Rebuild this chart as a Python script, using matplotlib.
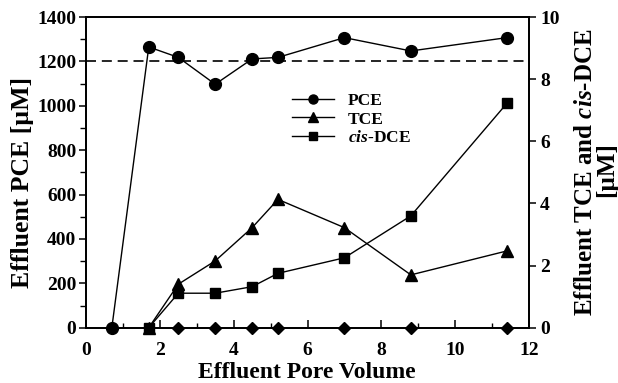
import matplotlib
matplotlib.use("Agg")
import matplotlib.pyplot as plt
from matplotlib.ticker import MultipleLocator
from matplotlib.lines import Line2D

plt.rcParams["font.family"] = ["Liberation Serif", "DejaVu Serif"]
plt.rcParams["font.weight"] = "bold"
plt.rcParams["mathtext.fontset"] = "custom"
plt.rcParams["mathtext.it"] = "Liberation Serif:italic:bold"
plt.rcParams["mathtext.rm"] = "Liberation Serif:bold"
plt.rcParams["mathtext.bf"] = "Liberation Serif:bold"

# Effluent pore volumes and measured concentrations
pv_pce = [0.7, 1.7, 2.5, 3.5, 4.5, 5.2, 7.0, 8.8, 11.4]
pce = [0, 1265, 1218, 1097, 1211, 1218, 1307, 1247, 1307]          # µM

pv_daughter = [1.7, 2.5, 3.5, 4.5, 5.2, 7.0, 8.8, 11.4]
tce = [0, 1.40, 2.15, 3.22, 4.13, 3.22, 1.70, 2.47]                  # µM
cis_dce = [0, 1.11, 1.11, 1.32, 1.75, 2.25, 3.60, 7.22]              # µM

pv_zero = [2.5, 3.5, 4.5, 5.2, 7.0, 8.8, 11.4]
zero_series = [0, 0, 0, 0, 0, 0, 0]

influent_pce = 1200  # µM

W, H = 618, 383
fig = plt.figure(figsize=(W / 100, H / 100), dpi=100)
ax = fig.add_axes([86 / W, 1 - 327.7 / H, (529 - 86) / W, (327.7 - 17) / H])
ax2 = ax.twinx()

lw = 1.0
ax.axhline(influent_pce, color="black", lw=1.2, ls=(0, (6, 3.5)), zorder=1)
ax.plot(pv_pce, pce, color="black", lw=lw, marker="o", ms=8.5, clip_on=False, zorder=3)

ax2.plot(pv_daughter, tce, color="black", lw=lw, marker="^", ms=8.5, clip_on=False, zorder=3)
ax2.plot(pv_daughter, cis_dce, color="black", lw=lw, marker="s", ms=7, clip_on=False, zorder=3)
ax2.plot(pv_zero, zero_series, ls="none", color="black", marker="D", ms=6.5, clip_on=False, zorder=4)

ax.set_xlim(0, 12)
ax.set_ylim(0, 1400)
ax2.set_ylim(0, 10)

ax.xaxis.set_major_locator(MultipleLocator(2))
ax.xaxis.set_minor_locator(MultipleLocator(1))
ax.yaxis.set_major_locator(MultipleLocator(200))
ax.yaxis.set_minor_locator(MultipleLocator(100))
ax2.yaxis.set_major_locator(MultipleLocator(2))

ax.tick_params(axis="x", which="major", direction="in", length=6, width=1.1, labelsize=14, pad=10)
ax.tick_params(axis="x", which="minor", direction="in", length=3.5, width=1.0)
ax.tick_params(axis="y", which="major", direction="out", length=5, width=1.1, labelsize=14, pad=2)
ax.tick_params(axis="y", which="minor", direction="out", length=4, width=1.0)
ax2.tick_params(axis="y", which="major", direction="out", length=5, width=1.1, labelsize=14, pad=3)
ax.tick_params(top=False, which="both")

for a in (ax, ax2):
    for s in a.spines.values():
        s.set_linewidth(1.3)

# Axis titles
fig.text(307 / W, 1 - 372 / H, "Effluent Pore Volume",
         ha="center", va="center", fontsize=17, fontweight="bold")
fig.text(23 / W, 1 - 182 / H, "Effluent PCE [µM]", rotation=90,
         ha="center", va="center", fontsize=18.5, fontweight="bold")
fig.text(585 / W, 1 - 172 / H, r"Effluent TCE and $\mathit{cis}$-DCE",
         rotation=90, ha="center", va="center", fontsize=18, fontweight="bold")
fig.text(607 / W, 1 - 170 / H, "[µM]",
         rotation=90, ha="center", va="center", fontsize=18, fontweight="bold")

handles = [
    Line2D([], [], color="black", lw=lw, marker="o", ms=6.5),
    Line2D([], [], color="black", lw=lw, marker="^", ms=6.5),
    Line2D([], [], color="black", lw=lw, marker="s", ms=5.5),
]
labels = ["PCE", "TCE", r"$\mathit{cis}$-DCE"]
fig.legend(handles, labels, loc="upper left", bbox_to_anchor=(280 / W, 1 - 81 / H),
           frameon=False, handlelength=2.4, handletextpad=0.8,
           labelspacing=0.12, borderpad=0.2, prop={"weight": "bold", "size": 12.5})

fig.savefig("out.png", dpi=100)
